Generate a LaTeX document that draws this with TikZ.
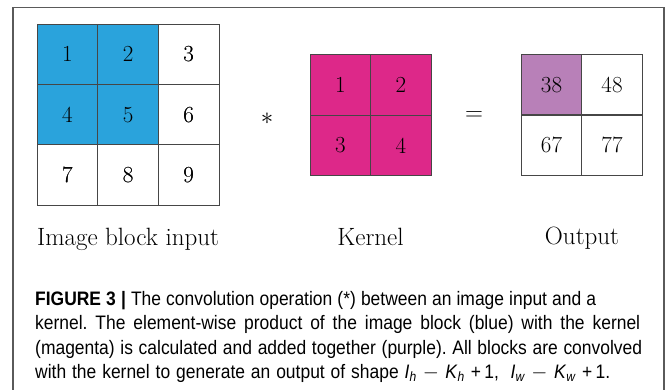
\documentclass[tikz,border=0pt]{standalone}
\usepackage{fontspec}
\newfontfamily\capfont[FakeStretch=0.895]{Liberation Sans}
\definecolor{cellblue}{RGB}{42,163,220}
\definecolor{cellmagenta}{RGB}{221,40,137}
\definecolor{cellpurple}{RGB}{184,128,184}
\definecolor{gridline}{RGB}{70,70,70}
\definecolor{framegray}{RGB}{90,90,90}
\newcommand{\capsub}[1]{\raisebox{-0.25ex}{\fontsize{13.5}{14}\selectfont\textit{#1}}}
\frenchspacing
\begin{document}
\begin{tikzpicture}[x=1pt,y=-1pt,
  cell/.style={draw=gridline, line width=0.8pt, minimum width=60.6pt, minimum height=60.5pt,
    inner sep=0pt, font=\fontsize{23}{27}\selectfont},
  lbl/.style={anchor=base, inner sep=0pt, font=\fontsize{25}{29}\selectfont},
  capline/.style={anchor=base west, inner sep=0pt, font=\capfont\fontsize{19.5}{22}\selectfont}]
\useasboundingbox (0,0) rectangle (672,390);
% outer frame (open at the bottom)
\draw[framegray, line width=1.1pt] (13,390) -- (13,7.5) -- (664,7.5) -- (664,390);

% image block, 3x3
\foreach \r in {1,2,3}{
  \foreach \c in {1,2,3}{
    \pgfmathtruncatemacro{\v}{(\r-1)*3+\c}
    \node[cell] (g\r\c) at ({37+60.7*(\c-0.5)},{24+60.4*(\r-0.5)}) {\v};
  }
}
\foreach \r/\c in {1/1,1/2,2/1,2/2}{
  \fill[cellblue] (g\r\c.south west) rectangle (g\r\c.north east);
}
\foreach \r in {1,2,3}{
  \foreach \c in {1,2,3}{
    \pgfmathtruncatemacro{\v}{(\r-1)*3+\c}
    \node[cell] at (g\r\c) {\v};
  }
}

% kernel, 2x2
\node[cell, fill=cellmagenta] (k11) at (340.3,85) {1};
\node[cell, fill=cellmagenta] (k12) at (400.8,85) {2};
\node[cell, fill=cellmagenta] (k21) at (340.3,145.5) {3};
\node[cell, fill=cellmagenta] (k22) at (400.8,145.5) {4};

% output, 2x2
\node[cell, fill=cellpurple] (o11) at (551.5,85) {38};
\node[cell] (o12) at (612,85) {48};
\node[cell] (o21) at (551.5,145) {67};
\node[cell] (o22) at (612,145) {77};

% operators
\node[inner sep=0pt, font=\fontsize{23}{27}\selectfont] (star) at (267,119) {$*$};
\node[inner sep=0pt, font=\fontsize{23}{27}\selectfont] (eq) at (474,116) {$=$};

% block labels
\node[lbl] (limg) at (128,245) {Image block input};
\node[lbl] (lker) at (370.5,245) {Kernel};
\node[lbl] (lout) at (582,244) {Output};

% caption, each line spread to its width
\node[capline] (c1) at (35,305) {\makebox[561pt][s]{\textbf{FIGURE 3 |} The convolution operation (*) between an image input and a}};
\node[capline] (c2) at (35,329.5) {\makebox[605pt][s]{kernel. The element-wise product of the image block (blue) with the kernel}};
\node[capline] (c3) at (35,354) {\makebox[607pt][s]{(magenta) is calculated and added together (purple). All blocks are convolved}};
\node[capline] (c4) at (35,378.5) {\makebox[575pt][s]{with the kernel to generate an output of shape \textit{I}\capsub{h}\,\,$-$\,\,\textit{K}\capsub{h}\,\,+\,1, \ \textit{I}\capsub{w}\,\,$-$\,\,\textit{K}\capsub{w}\,\,+\,1.}};
\end{tikzpicture}
\end{document}
